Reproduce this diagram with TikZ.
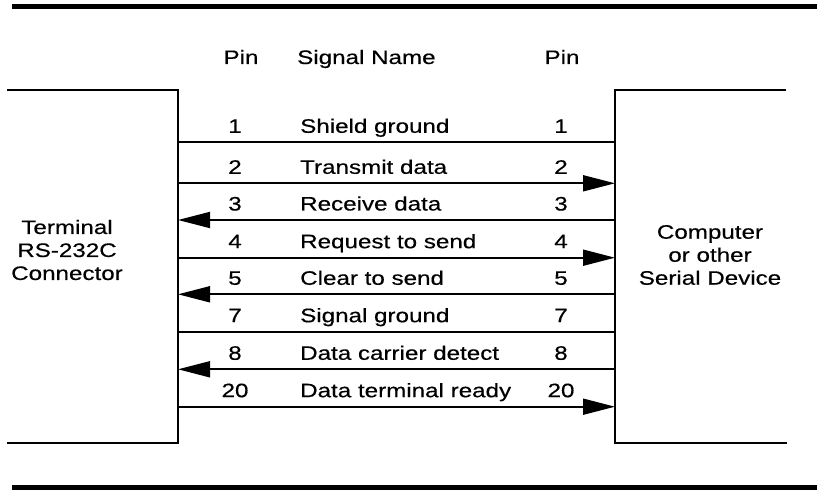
\documentclass[tikz,border=0pt]{standalone}
\usepackage{fontspec}
\setmainfont{Liberation Sans}[FakeStretch=1.24,FakeBold=0.4]
\usetikzlibrary{arrows.meta}
\begin{document}
\begin{tikzpicture}[x=1bp,y=-1bp,
  rule/.style={line width=5bp},
  wire/.style={line width=1.8bp},
  boxline/.style={line width=1.8bp},
  lbl/.style={inner sep=0pt, anchor=base, font=\fontsize{19.5bp}{23bp}\selectfont},
  boxtext/.style={inner sep=0pt, align=center, font=\fontsize{19.5bp}{23bp}\selectfont},
  toR/.style={-{Triangle[length=32bp,width=16bp]}},
  toL/.style={{Triangle[length=32bp,width=16bp]}-},
  plain/.style={}
]
\useasboundingbox (0,0) rectangle (822,490);
% rules
\coordinate (tl) at (12,7);
\coordinate (tr) at (817,7);
\coordinate (bl) at (12,487.5);
\coordinate (br) at (817,487.5);
\draw[rule] (tl) -- (tr);
\draw[rule] (bl) -- (br);
% header
\node[lbl] (hpin1) at (241,64) {Pin};
\node[lbl,anchor=base west] (hsig) at (297,64) {Signal Name};
\node[lbl] (hpin2) at (562,64) {Pin};
% boxes
\draw[boxline] (7,90) -| (178,443) -- (7,443);
\draw[boxline] (786,90) -| (615,443) -- (787,443);
\node[boxtext] (term) at (67,250) {Terminal\\RS-232C\\Connector};
\node[boxtext] (comp) at (710,255) {Computer\\or other\\Serial Device};
% wires
\foreach \y/\p/\n/\d [count=\i] in {
  142.3/1/Shield ground/plain,
  183.3/2/Transmit data/toR,
  220/3/Receive data/toL,
  257.7/4/Request to send/toR,
  294.3/5/Clear to send/toL,
  331.7/7/Signal ground/plain,
  369.3/8/Data carrier detect/toL,
  406.7/20/Data terminal ready/toR}{
  \coordinate (L\i) at (178,\y);
  \coordinate (R\i) at (615,\y);
  \draw[wire,\d] (L\i) -- (R\i);
  \node[lbl] (pl\i) at (235,\y-9.5) {\p};
  \node[lbl,anchor=base west] (sn\i) at (300,\y-9.5) {\n};
  \node[lbl] (pr\i) at (561,\y-9.5) {\p};
}
\end{tikzpicture}
\end{document}
